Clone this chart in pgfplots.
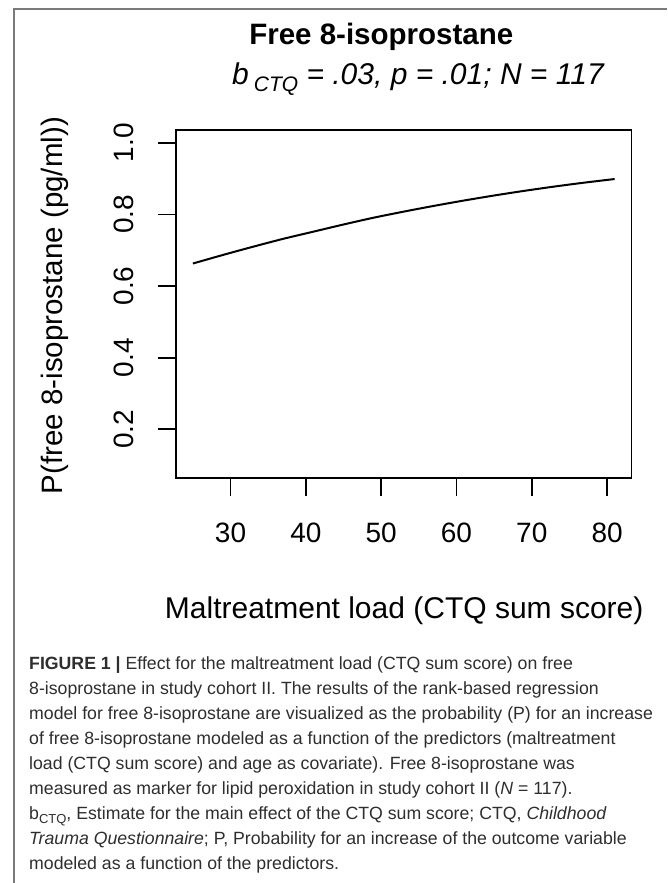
\documentclass[border=0pt]{standalone}
\usepackage{fontspec}
\setmainfont{Liberation Sans}
\usepackage{pgfplots}
\pgfplotsset{compat=1.18}
\definecolor{framegray}{HTML}{7A7A7A}
\definecolor{captext}{HTML}{2E2E2E}
\newcommand{\fs}[1]{\fontsize{#1}{#1}\selectfont}
\newcommand{\capline}[2]{\node[anchor=base west, inner sep=0pt, text=captext, font=\fs{17.7}] at (29pt,#1pt) {#2};}
\begin{document}
\begin{tikzpicture}[x=1pt,y=1pt]
\useasboundingbox (0,0) rectangle (667,883);
\fill[white] (0,0) rectangle (667,883);
\draw[framegray, line width=1.3pt] (14,0) -- (14,874) -- (667,874);
\begin{axis}[
  at={(176pt,405pt)}, anchor=south west,
  scale only axis, width=455.5pt, height=348pt,
  xmin=22.76, xmax=83.24, ymin=0.064, ymax=1.036,
  xtick={30,40,50,60,70,80},
  ytick={0.2,0.4,0.6,0.8,1.0},
  tick pos=left, tick align=outside,
  major tick length=18pt,
  axis line style={line width=1.8pt},
  every tick/.style={black, line width=1.8pt},
  /pgf/number format/assume math mode=true,
  yticklabel style={/pgf/number format/fixed, /pgf/number format/fixed zerofill, /pgf/number format/precision=1},
  xticklabel style={font=\fs{28}, inner sep=0pt, anchor=north},
  yticklabel style={font=\fs{28}, inner sep=0pt, rotate=90, anchor=south},
  xticklabel shift=27pt,
  yticklabel shift=24pt,
  clip=false,
]
\addplot[black, line width=2pt, smooth] coordinates {
(25,0.663) (29,0.687) (33,0.710) (37,0.732) (41,0.752) (45,0.772) (49,0.791) (53,0.808) (57,0.824) (61,0.839) (65,0.853) (69,0.866) (73,0.878) (77,0.889) (81,0.899)
};
\end{axis}
\node[anchor=base, inner sep=0pt, font=\fs{29.5}\bfseries] at (381.3,838) {Free 8-isoprostane};
\node[anchor=base west, inner sep=0pt, font=\fs{30}\itshape] at (232,798) {b\,\raisebox{-6.7pt}{\fs{21}CTQ} = .03, p = .01; N = 117};
\node[anchor=base, inner sep=0pt, rotate=90, font=\fs{29.5}] at (62.7,577.4) {P(free 8-isoprostane (pg/ml))};
\node[anchor=base, inner sep=0pt, font=\fs{30}] at (404.2,264) {Maltreatment load (CTQ sum score)};
\capline{213}{\textbf{FIGURE 1 |} Effect for the maltreatment load (CTQ sum score) on free}
\capline{188}{8-isoprostane in study cohort II. The results of the rank-based regression}
\capline{163}{model for free 8-isoprostane are visualized as the probability (P) for an increase}
\capline{138.7}{of free 8-isoprostane modeled as a function of the predictors (maltreatment}
\capline{113.7}{load (CTQ sum score) and age as covariate). Free 8-isoprostane was}
\capline{88.7}{measured as marker for lipid peroxidation in study cohort II (\textit{N} = 117).}
\capline{63.7}{b\raisebox{-4pt}{\fs{13}CTQ}, Estimate for the main effect of the CTQ sum score; CTQ, \textit{Childhood}}
\capline{38.7}{\textit{Trauma Questionnaire}; P, Probability for an increase of the outcome variable}
\capline{13.7}{modeled as a function of the predictors.}
\end{tikzpicture}
\end{document}
